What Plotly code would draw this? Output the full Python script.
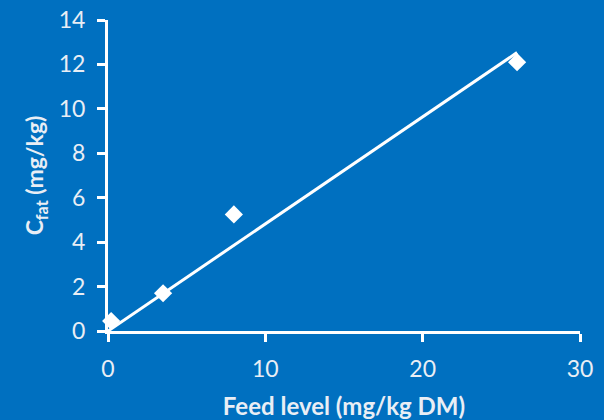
import numpy as np
import plotly.graph_objects as go

feed_level = [0.2, 3.5, 8.0, 26.0]
c_fat = [0.45, 1.7, 5.25, 12.1]
x_ticks = [0, 10, 20, 30]
y_ticks = [0, 2, 4, 6, 8, 10, 12, 14]

# trend line through origin (least squares)
x = np.array(feed_level)
y = np.array(c_fat)
slope = float((x * y).sum() / (x * x).sum())
trend_x = [0, max(feed_level)]
trend_y = [0, slope * max(feed_level)]

BG = "#0070C0"
TXT = "#E9EEF5"

fig = go.Figure()
fig.add_trace(go.Scatter(x=trend_x, y=trend_y, mode="lines",
                         line=dict(color="white", width=3), cliponaxis=False,
                         showlegend=False, hoverinfo="skip"))
fig.add_trace(go.Scatter(x=feed_level, y=c_fat, mode="markers",
                         marker=dict(symbol="diamond", size=14, color="white",
                                     line=dict(width=0)),
                         cliponaxis=False, showlegend=False))

axis_common = dict(showgrid=False, zeroline=False, showline=True,
                   linecolor="white", linewidth=3, ticks="outside",
                   ticklen=8, tickwidth=3, tickcolor="white", automargin=False,
                   ticklabelstandoff=7,
                   tickfont=dict(family="Lato", size=23, color=TXT))

fig.update_layout(
    width=604, height=420,
    paper_bgcolor=BG, plot_bgcolor=BG,
    margin=dict(l=108, r=24, t=20, b=89, pad=0),
    font=dict(family="Lato", color=TXT),
    xaxis=dict(range=[0, 30], tickvals=x_ticks, **axis_common,
               title=dict(text="<b>Feed level (mg/kg DM)</b>",
                          font=dict(family="Lato", size=24, color=TXT),
                          standoff=18)),
    yaxis=dict(range=[0, 14], tickvals=y_ticks, **axis_common,
               title=dict(text="<b>C<sub>fat</sub> (mg/kg)</b>",
                          font=dict(family="Lato", size=23, color=TXT),
                          standoff=9)),
)

fig.write_html("out.html", config={"displayModeBar": False},
               post_script="document.body.style.margin='0';document.body.style.overflow='hidden';")
